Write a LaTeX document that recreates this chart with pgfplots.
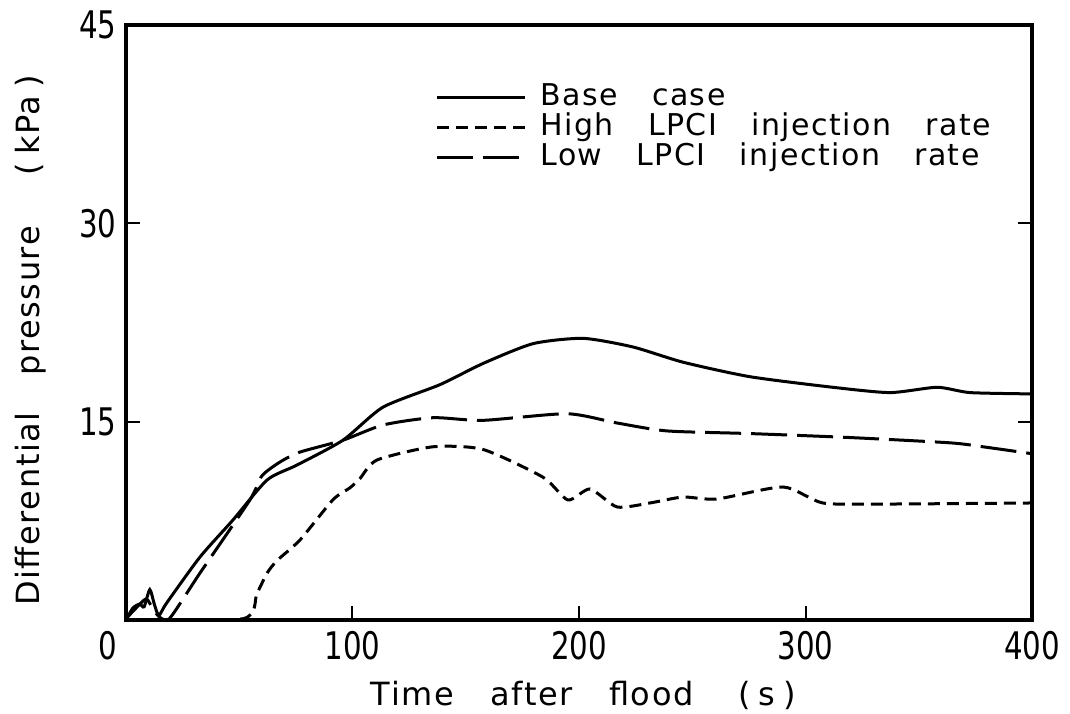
\documentclass[border=0pt]{standalone}
\usepackage{fontspec}
\setmainfont{DejaVu Sans}[LetterSpace=5,WordSpace=3.1]
\newfontfamily\tickfont{DejaVu Sans}[FakeStretch=0.77]
\usepackage{pgfplots}
\pgfplotsset{compat=1.18}

\begin{document}
\begin{tikzpicture}
\begin{axis}[
  scale only axis, width=453pt, height=297.5pt,
  xmin=0, xmax=400, ymin=0, ymax=45,
  xtick={0,100,200,300,400},
  xticklabels={{\makebox[0pt]{\hspace{-18pt}0}},100,200,300,400},
  ytick={15,30,45},
  tick align=inside, major tick length=7pt,
  xtick pos=bottom, ytick pos=both,
  every tick/.style={black, line width=1pt},
  axis line style={line width=2pt},
  ticklabel style={font=\tickfont\fontsize{19}{23}\selectfont},
  xticklabel style={inner sep=0pt, yshift=-5.5pt},
  yticklabel style={inner sep=0pt, xshift=-4.5pt},
  /pgf/number format/assume math mode=true,
  xlabel={Time after flood\hspace{1.4em}(\hspace{0.25em}s\hspace{0.25em})},
  ylabel={Differential pressure\hspace{1.6em}(\hspace{0.25em}kPa\hspace{0.25em})},
  label style={font=\fontsize{16}{19}\selectfont},
  xlabel style={at={(axis description cs:0.505,-0.126)}, anchor=center},
  ylabel style={at={(axis description cs:-0.105,0.47)}, anchor=center},
  legend style={at={(rel axis cs:0.341,0.904)}, anchor=north west, draw=none, fill=none,
    inner sep=0pt, font=\fontsize{15}{15}\selectfont,
    nodes={inner sep=0pt, text height=11.5pt, text depth=3.5pt},
    /tikz/every odd column/.append style={column sep=7pt}},
  legend cell align=left,
  legend image code/.code={\draw[#1] (0pt,0pt) -- (44pt,0pt);},
  clip=true,
]
\addplot[black, line width=1.5pt, smooth, tension=0.4] coordinates {
 (0,0) (3,0.9) (6,1.2) (8,1.0) (10.5,2.3) (12.5,1.2) (14.5,0.35) (18,1.3)
 (32.7,4.77) (47.2,7.56) (62.3,10.59) (75.5,11.72) (95.8,13.6) (113.5,16.1)
 (138.6,17.8) (157.6,19.4) (179.7,20.9) (201.8,21.3) (223.8,20.65) (245.9,19.5)
 (275.5,18.4) (312.1,17.6) (337.3,17.2) (358.1,17.6) (372.6,17.2) (399.1,17.1) (400,17.1)
};
\addlegendentry{Base case}
\addplot[black, line width=1.5pt, smooth, tension=0.4, dash pattern=on 6pt off 3.5pt] coordinates {
 (0,0) (51.7,0.1) (57.8,2.0) (62.3,3.55) (66.7,4.5) (76.8,6.05) (91.4,9.1)
 (98.9,10.0) (103.3,10.7) (110.8,12.1)
 (135.5,13.1) (157.6,12.9) (184.1,10.8) (195.1,9.08) (204.9,9.91) (216.8,8.55)
 (231.3,8.85) (245.9,9.3) (260.9,9.15) (290.1,10.06) (307.7,8.85) (334.2,8.77) (399.1,8.85) (400,8.85)
};
\addlegendentry{High LPCI injection rate}
\addplot[black, line width=1.5pt, smooth, tension=0.4, dash pattern=on 18pt off 5pt] coordinates {
 (0,0.1) (5,1.0) (9,1.6) (12,0.8) (15,0.2) (19.4,0.15) (32.7,3.56) (54.7,9.08)
 (60,10.9) (68,11.95) (76.8,12.7) (95.8,13.6) (113.5,14.75) (135.5,15.3)
 (157.6,15.1) (194.7,15.6) (216.8,14.9) (238.9,14.3) (275.5,14.1) (319.6,13.8)
 (363.8,13.4) (378.4,13.1) (399.1,12.6) (400,12.6)
};
\addlegendentry{Low LPCI injection rate}
\end{axis}
\pgfresetboundingbox
\path[use as bounding box] (-63pt,-46.5pt) rectangle (472pt,310pt);
\end{tikzpicture}
\end{document}
